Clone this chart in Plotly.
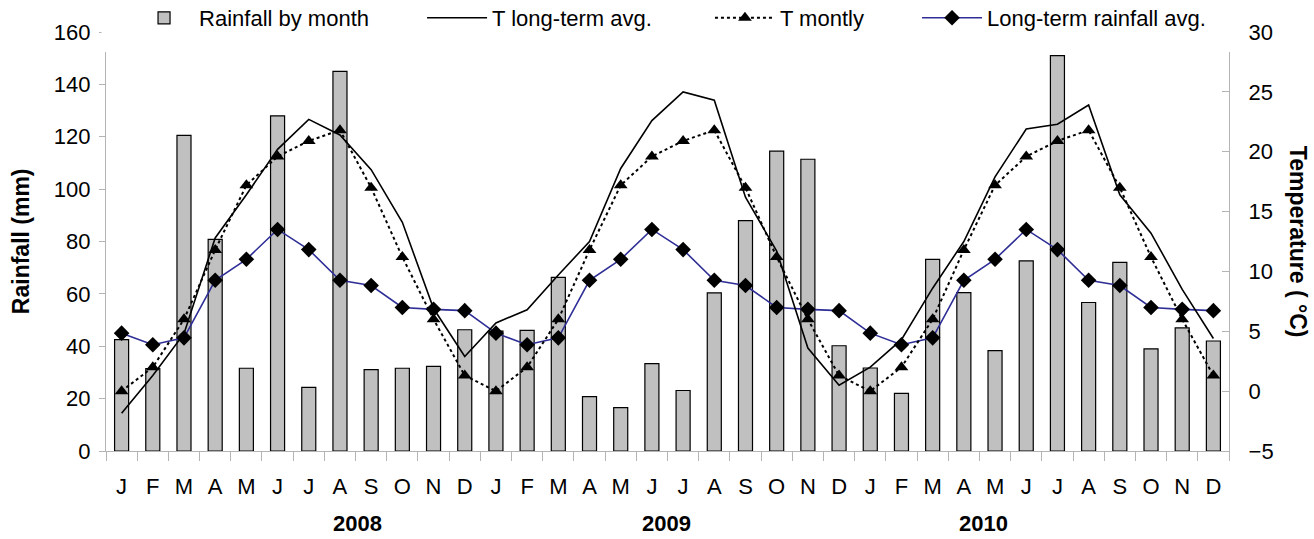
import plotly.graph_objects as go

# ---- data ----
month_letters = ["J", "F", "M", "A", "M", "J", "J", "A", "S", "O", "N", "D"]
years = ["2008", "2009", "2010"]

rain_2008 = [42.5, 31.5, 120.5, 80.8, 31.6, 128.0, 24.3, 145.0, 31.1, 31.6, 32.3, 46.3]
rain_2009 = [45.8, 46.1, 66.3, 20.8, 16.6, 33.4, 23.1, 60.4, 88.0, 114.5, 111.4, 40.2]
rain_2010 = [31.7, 22.0, 73.2, 60.5, 38.3, 72.6, 151.0, 56.7, 72.0, 39.0, 47.0, 42.0]

t_longterm_2008 = [-1.85, 1.3, 4.8, 12.8, 16.4, 20.2, 22.7, 21.4, 18.5, 14.1, 6.9, 2.9]
t_longterm_2009 = [5.7, 6.8, 9.7, 12.5, 18.6, 22.6, 25.0, 24.3, 16.2, 11.7, 3.6, 0.5]
t_longterm_2010 = [2.0, 4.3, 8.6, 12.5, 17.9, 21.9, 22.3, 23.9, 16.4, 13.2, 8.5, 4.4]

t_monthly_year = [0.0, 2.0, 6.0, 11.8, 17.2, 19.6, 20.9, 21.8, 17.0, 11.2, 6.0, 1.3]
rain_longterm_year = [45.0, 40.6, 43.2, 65.2, 73.2, 84.6, 76.9, 65.2, 63.2, 54.8, 54.1, 53.6]

rainfall = rain_2008 + rain_2009 + rain_2010
t_longterm = t_longterm_2008 + t_longterm_2009 + t_longterm_2010
t_monthly = t_monthly_year * 3
rain_longterm = rain_longterm_year * 3
tick_labels = month_letters * 3
x = list(range(len(tick_labels)))

# ---- figure ----
FONT = "Liberation Sans, Arial, sans-serif"
AXIS_GRAY = "#b4b4b4"

fig = go.Figure()
fig.add_trace(go.Bar(
    x=x, y=rainfall, name="Rainfall by month", width=0.45, showlegend=True,
    marker=dict(color="#c0c0c0", line=dict(color="#000000", width=1.2)),
    legend="legend", yaxis="y"))
fig.add_trace(go.Scatter(
    x=x, y=t_longterm, name="T long-term avg.", mode="lines",
    line=dict(color="#000000", width=1.6), legend="legend2", yaxis="y2"))
fig.add_trace(go.Scatter(
    x=x, y=t_monthly, name="T montly", mode="lines+markers",
    line=dict(color="#000000", width=2, dash="dot"),
    marker=dict(symbol="triangle-up", size=12, color="#000000"),
    legend="legend3", yaxis="y2"))
fig.add_trace(go.Scatter(
    x=x, y=rain_longterm, name="Long-term rainfall avg.", mode="lines+markers",
    line=dict(color="#2e2e96", width=1.6),
    marker=dict(symbol="diamond", size=12, color="#000000"),
    legend="legend4", yaxis="y"))

leg_common = dict(orientation="h", yref="container", y=0.9666, yanchor="middle",
                  xref="container", xanchor="left",
                  font=dict(family=FONT, size=22, color="#000000"),
                  bgcolor="rgba(0,0,0,0)", borderwidth=0, itemwidth=60)

fig.update_layout(
    width=1314, height=539,
    showlegend=True,
    margin=dict(l=106, r=85, t=32, b=88, autoexpand=False),
    paper_bgcolor="white", plot_bgcolor="white",
    font=dict(family=FONT, size=22, color="#000000"),
    legend=dict(x=0.0982, **leg_common),
    legend2=dict(x=0.3212, **leg_common),
    legend3=dict(x=0.5403, **leg_common),
    legend4=dict(x=0.6979, **leg_common),
    xaxis=dict(
        range=[-0.5, len(x) - 0.5], tickmode="array", tickvals=x, ticktext=tick_labels,
        ticks="", showline=True, linecolor=AXIS_GRAY, linewidth=1.3,
        showgrid=False, zeroline=False, ticklabelstandoff=15,
        tickfont=dict(family=FONT, size=22),
        minor=dict(tickmode="array", tickvals=[i - 0.5 for i in range(len(x) + 1)],
                   ticks="outside", ticklen=9, tickcolor=AXIS_GRAY, tickwidth=1.3,
                   showgrid=False)),
    yaxis=dict(
        range=[0, 160], dtick=20, tick0=0, ticks="outside", ticklen=6,
        tickcolor=AXIS_GRAY, tickwidth=1.3, showline=True, linecolor=AXIS_GRAY,
        linewidth=1.3, showgrid=False, zeroline=False, ticklabelstandoff=4,
        tickfont=dict(family=FONT, size=22)),
    yaxis2=dict(
        range=[-5, 30], dtick=5, tick0=-5, overlaying="y", side="right",
        ticks="inside", ticklen=7, tickcolor=AXIS_GRAY, tickwidth=1.3,
        showline=True, linecolor=AXIS_GRAY, linewidth=1.3, showgrid=False,
        zeroline=False, ticklabelstandoff=14, tickfont=dict(family=FONT, size=22)),
)

# axis titles
fig.add_annotation(text="<b>Rainfall (mm)</b>", xref="paper", yref="paper",
                   x=-0.076, y=0.5, textangle=-90, showarrow=False,
                   xanchor="center", yanchor="middle",
                   font=dict(family=FONT, size=23))
fig.add_annotation(text="<b>Temperature ( °C)</b>", xref="paper", yref="paper",
                   x=1.062, y=0.5, textangle=90, showarrow=False,
                   xanchor="center", yanchor="middle",
                   font=dict(family=FONT, size=23))

# year labels
year_anchor = [7.55, 17.46, 27.63]
for yr, xa in zip(years, year_anchor):
    fig.add_annotation(text=f"<b>{yr}</b>", x=xa, xref="x", y=-0.205, yref="paper",
                       showarrow=False, xanchor="center", yanchor="bottom",
                       borderpad=0, font=dict(family=FONT, size=22))

# white legend band covering the top of the plot area (as in the original)
fig.add_shape(type="rect", xref="paper", yref="paper", x0=-0.004, x1=1.004,
              y0=0.952, y1=1.08, fillcolor="white", line=dict(width=0), layer="above")

fig.write_html("out.html")
